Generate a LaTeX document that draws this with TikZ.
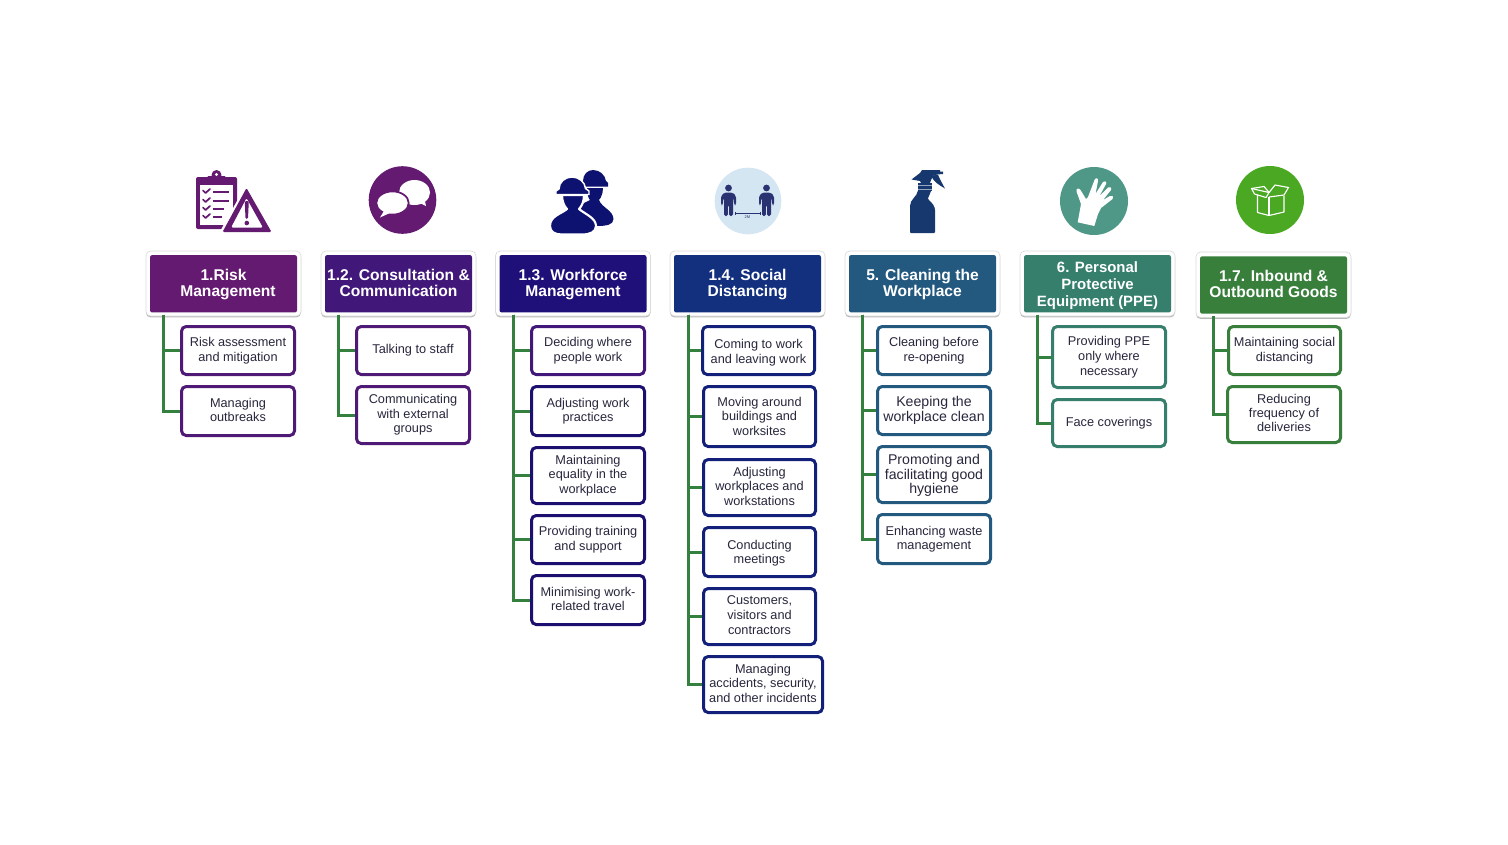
\documentclass[tikz,border=0pt]{standalone}
\usepackage{fontspec}
\setmainfont{Liberation Sans}
\usetikzlibrary{shadows}
\definecolor{txt}{HTML}{27273D}
\definecolor{lnk}{HTML}{34803F}
\definecolor{ca}{HTML}{651A72}
\definecolor{cb}{HTML}{41187A}
\definecolor{cc}{HTML}{1E1078}
\definecolor{cd}{HTML}{12307E}
\definecolor{ce}{HTML}{23587F}
\definecolor{cf}{HTML}{367F6D}
\definecolor{cg}{HTML}{377F3B}
\definecolor{ba}{HTML}{4E1A75}
\definecolor{bc}{HTML}{1B1070}
\definecolor{bd}{HTML}{12207A}
\definecolor{icn}{HTML}{0D1270}
\definecolor{ispr}{HTML}{17386E}
\definecolor{pale}{HTML}{D5E6F3}
\definecolor{pers}{HTML}{2A3272}
\definecolor{glv}{HTML}{4F9888}
\definecolor{grn}{HTML}{4BA823}
\tikzset{
  x=0.75pt,y=-0.75pt,
  hframe/.style={fill=white,draw=black!14,line width=.5pt,rounded corners=3.5pt,drop shadow={shadow xshift=0pt,shadow yshift=-1.1pt,opacity=.5,fill=black!55}},
  hdr/.style={text=white,font=\fontsize{11.7}{12}\selectfont\bfseries,align=center,inner sep=0pt,rounded corners=1.6pt,minimum height=43pt,minimum width=110.25pt},
  hdrs/.style={hdr,font=\fontsize{11.2}{12.75}\selectfont\bfseries},
  kid/.style={draw=#1,fill=white,line width=2.25pt,rounded corners=3.5pt,text=txt,align=center,inner sep=0pt,font=\fontsize{9.55}{10.8}\selectfont},
  kidl/.style={kid=#1,font=\fontsize{10.6}{10.9}\selectfont},
  kidw/.style={kid=#1,font=\fontsize{9.55}{11.1}\selectfont},
  kidt/.style={kid=#1,font=\fontsize{9.55}{10.5}\selectfont},
  tie/.style={draw=lnk,line width=2.25pt}
}
% header: name, cx, top, bottom, colour, style, text
\newcommand{\hdrbox}[7]{%
  \path[hframe] (#2-77.5,#3-4) rectangle (#2+77.5,#4+3.5);
  \node[#6,fill=#5] (#1) at (#2,{(#3+#4)/2}) {#7\vphantom{g}};}
% child: name, x0, y0, x1, y1, style, text
\newcommand{\kidbox}[7]{%
  \node[#6,minimum width={(#4-#2-3)*0.75pt},minimum height={(#5-#3-3)*0.75pt}] (#1) at ({(#2+#4)/2},{(#3+#5)/2}) {#7\vphantom{g}};}
\newcommand{\tops}[1]{\rule{0pt}{#1}}
\begin{document}
\begin{tikzpicture}
\useasboundingbox (0,0) rectangle (1508,844);
\fill[white] (0,0) rectangle (1508,844);

\coordinate (ta) at (163.5,314.5);
\coordinate (tb) at (338.5,314.5);
\coordinate (tc) at (513.5,314.5);
\coordinate (td) at (688,314.5);
\coordinate (te) at (862.5,314.5);
\coordinate (tf) at (1037.5,314.5);
\coordinate (tg) at (1213.5,316);

% ---------- headers
\hdrbox{ha}{223.5}{255}{312.5}{ca}{hdr}{\tops{9.9pt}1.Risk\\\hspace*{6.75pt}Management}
\hdrbox{hb}{398.5}{255}{312.5}{cb}{hdr}{\tops{9.9pt}1.2. Consultation \&\\Communication}
\hdrbox{hc}{573}{255}{312.5}{cc}{hdr}{\tops{9.9pt}1.3. Workforce\\Management}
\hdrbox{hd}{747.5}{255}{312.5}{cd}{hdr}{\tops{9.9pt}1.4. Social\\Distancing}
\hdrbox{he}{922.5}{255}{312.5}{ce}{hdr}{\tops{9.9pt}5. Cleaning the\\Workplace}
\hdrbox{hf}{1097.5}{255}{312.5}{cf}{hdrs}{\tops{11pt}6. Personal\\Protective\\Equipment (PPE)}
\hdrbox{hg}{1273.5}{256}{314}{cg}{hdr}{\tops{9.9pt}1.7. Inbound \&\\Outbound Goods}

% ---------- children
\kidbox{a1}{180}{325}{296}{376}{kid=ba}{Risk assessment\\and mitigation}
\kidbox{a2}{180}{385}{296}{437}{kid=ba}{Managing\\outbreaks}
\kidbox{b1}{355}{325}{471}{376}{kid=ba}{Talking to staff}
\kidbox{b2}{355}{385}{471}{445}{kid=ba}{Communicating\\with external\\groups}
\kidbox{c1}{530}{325}{646}{376}{kid=cb}{Deciding where\\people work}
\kidbox{c2}{530}{385}{646}{437}{kid=bc}{Adjusting work\\practices}
\kidbox{c3}{530}{446}{646}{505}{kid=bc}{Maintaining\\equality in the\\workplace}
\kidbox{c4}{530}{514}{646}{565}{kid=bc}{Providing training\\and support}
\kidbox{c5}{530}{574}{646}{626}{kid=bc}{Minimising work-\\related travel}
\kidbox{d1}{701}{325}{816}{376}{kidw=bd}{\tops{9.9pt}Coming to work\\and leaving work}
\kidbox{d2}{702}{385}{817}{448}{kidw=bd}{\tops{8.6pt}Moving around\\buildings and\\worksites}
\kidbox{d3}{702}{458}{817}{517}{kidw=bd}{Adjusting\\workplaces and\\workstations}
\kidbox{d4}{702}{526}{817}{578}{kidw=bd}{\tops{8.6pt}Conducting\\meetings}
\kidbox{d5}{702}{587}{817}{646}{kidw=bd}{Customers,\\visitors and\\contractors}
\kidbox{d6}{702}{655}{824}{714}{kidw=bd}{Managing\\accidents, security,\\and other incidents}
\kidbox{e1}{876}{325}{992}{376}{kid=ce}{Cleaning before\\re-opening}
\kidbox{e2}{876}{385}{992}{436}{kidl=ce}{Keeping the\\workplace clean}
\kidbox{e3}{876}{445}{992}{504}{kidl=ce}{\tops{9.3pt}Promoting and\\facilitating good\\hygiene}
\kidbox{e4}{876}{513}{992}{565}{kid=ce}{Enhancing waste\\management}
\kidbox{f1}{1051}{325}{1167}{389}{kidw=cf}{Providing PPE\\only where\\necessary}
\kidbox{f2}{1051}{398}{1167}{448}{kid=cf}{Face coverings}
\kidbox{g1}{1227}{325}{1342}{376}{kid=cg}{Maintaining social\\distancing}
\kidbox{g2}{1226}{385}{1342}{444}{kidt=cg}{Reducing\\frequency of\\deliveries}

\foreach \t/\kids in {ta/{a1,a2},tb/{b1,b2},tc/{c1,c2,c3,c4,c5},td/{d1,d2,d3,d4,d5,d6},te/{e1,e2,e3,e4},tf/{f1,f2},tg/{g1,g2}}{
  \foreach \k in \kids { \draw[tie] (\t) |- (\k.west); }
}

% ---------- icon 1: clipboard + warning
\fill[ca,rounded corners=1.5pt] (196,177) rectangle (237,229);
\fill[ca] (216.5,175) circle (5);
\fill[ca,rounded corners=1pt] (207,176) rectangle (226,183);
\fill[white] (216.5,174.5) circle (1.6);
\fill[white] (200,185) rectangle (233,225);
\foreach \yy/\ll in {192/229,201/229,209/224,217/222}{
  \draw[ca,line width=1.3pt,line cap=round,line join=round] (203,\yy-1.5) -- (205.5,\yy+1) -- (210,\yy-3);
  \draw[ca,line width=1.7pt] (213,\yy) -- (\ll,\yy);
}
\fill[white] (218,235) -- (246.5,184) -- (275,235) -- cycle;
\path[fill=ca,even odd rule,rounded corners=1pt] (222.5,232) -- (246.5,188) -- (271.5,232) -- cycle
  (231,227.5) -- (263,227.5) -- (246.5,198) -- cycle;
\fill[ca,rounded corners=1pt] (244.8,201) -- (248.8,201) -- (248,219) -- (245.5,219) -- cycle;
\fill[ca] (246.8,223) circle (2.3);

% ---------- icon 2: chat bubbles
\fill[ca] (402.5,200) circle (33.8);
\fill[white] (414.5,192.5) ellipse (15.5 and 12.5);
\fill[white] (418,202) -- (426,206) -- (424.5,199) -- cycle;
\draw[ca,line width=1.3pt,fill=white] (392.5,203) ellipse (16.2 and 11.6);
\fill[white] (384,211) -- (380,217.5) -- (391,212.5) -- cycle;

% ---------- icon 3: workers
\fill[icn] (590,200) -- (599,200) .. controls (602,208) and (613,210) .. (613.5,219)
   .. controls (613.5,225) and (606,226) .. (596,226) -- (586,226) -- (580,205) -- cycle;
\fill[icn] (587,188) .. controls (587,196) and (589,201) .. (594,204) .. controls (600,201) and (603,195) .. (603,188) -- cycle;
\fill[icn] (583,181) .. controls (583,174) and (588,170) .. (593,170)
   .. controls (600,170) and (605,175) .. (606,181) -- (608,183) -- (608,186.5) -- (581,186.5) -- cycle;
\fill[icn,draw=white,line width=1.6pt,line join=round]
   (562,195) .. controls (562,201) and (564,206) .. (567,209)
   .. controls (561,214) and (550,216) .. (550,226)
   .. controls (550,232) and (555,234.5) .. (562,234.5) -- (582,234.5)
   .. controls (590,234.5) and (596,232) .. (596,226)
   .. controls (596,218) and (585,214) .. (579,209)
   .. controls (582,206) and (584,201) .. (584,195) -- cycle;
\fill[icn,draw=white,line width=1.1pt,line join=round] (559,189) .. controls (559,182) and (565,177) .. (572,177)
   .. controls (579,177) and (585,182) .. (585.5,188.5) -- (589,191) -- (589,194.5) -- (556,194.5) -- (556,191) -- cycle;

% ---------- icon 4: social distancing
\fill[pale] (748,201) circle (33.3);
\foreach \px in {728.5,766.5}{
  \fill[pers] (\px,188) circle (3.4);
  \fill[pers,rounded corners=1.2pt] (\px-7.5,205) -- (\px-7.5,196) -- (\px-4,192.5) -- (\px+4,192.5) -- (\px+7.5,196) -- (\px+7.5,205)
     -- (\px+5.7,205) -- (\px+5.2,198) -- (\px+4.5,198) -- (\px+4.5,216) -- (\px+.6,216) -- (\px+.6,205) -- (\px-.6,205) -- (\px-.6,216)
     -- (\px-4.5,216) -- (\px-4.5,198) -- (\px-5.2,198) -- (\px-5.7,205) -- cycle;
}
\draw[pers,line width=.45pt] (735,213.5) -- (760,213.5) (735,212) -- (735,215) (760,212) -- (760,215);
\node[text=pers,font=\fontsize{3}{3}\selectfont,inner sep=0pt] (dist) at (747.5,217) {2M};

% ---------- icon 5: spray bottle
\fill[ispr,rounded corners=.6pt] (910,233) -- (910,207) .. controls (910,199) and (917,197) .. (918,190)
   -- (931,190) .. controls (931,194) and (928,196) .. (928,199) .. controls (932,203) and (935,206) .. (935,211)
   -- (935,233) -- cycle;
\fill[ispr] (918,183) rectangle (932,191);
\draw[white!55!ispr,line width=.7pt] (918,185.5) -- (932,185.5) (918,189.3) -- (932,189.3);
\fill[ispr] (911.5,179.5) -- (920,173) -- (922,170) -- (940,170) -- (940,171.5) -- (943,171.5) -- (943,174) -- (937,174.5) -- (933,176)
   -- (931,180) -- (930,183) -- (921,183) -- (920,181) -- cycle;
\fill[ispr] (931,176) .. controls (934,182) and (939,185) .. (945,188.5) .. controls (942,183) and (939,178) .. (938,174.5) -- cycle;

% ---------- icon 6: glove
\fill[glv] (1094,201) circle (34);
\fill[white,line join=round] (1077.7,222.3) -- (1094.3,226) -- (1098,214) -- (1101,208)
  -- (1112.5,199) .. controls (1114,196) and (1111.5,195) .. (1110,196)
  -- (1103,200) -- (1111,190) .. controls (1112,187) and (1109.5,186.5) .. (1108,187.5)
  -- (1099.5,196) -- (1106,184) .. controls (1107,181) and (1104,180.5) .. (1103,182)
  -- (1095.5,194) -- (1098,181) .. controls (1098.5,177.5) and (1095.5,177.5) .. (1094.5,180)
  -- (1088,197) -- (1086,199) -- (1080.5,190) .. controls (1079,187.5) and (1075.5,188.5) .. (1076.5,191.5)
  -- (1081,204) -- cycle;

% ---------- icon 7: box
\fill[grn] (1270,200) circle (34);
\begin{scope}[draw=white,line width=.85pt,line join=round]
\draw (1257.5,195) -- (1257.5,212.5) -- (1269,215.5) -- (1284,212) -- (1284,195.5);
\draw (1269,197) -- (1269,215.5);
\draw (1251.5,188.5) -- (1269,192.5) -- (1266,197.5) -- (1254.5,194) -- cycle;
\draw (1269,192.5) -- (1275,185) -- (1288.5,187.5) -- (1284,195) -- (1269,197);
\draw (1251.5,188.5) -- (1264,186.5) -- (1269,192.5);
\end{scope}
\end{tikzpicture}
\end{document}
